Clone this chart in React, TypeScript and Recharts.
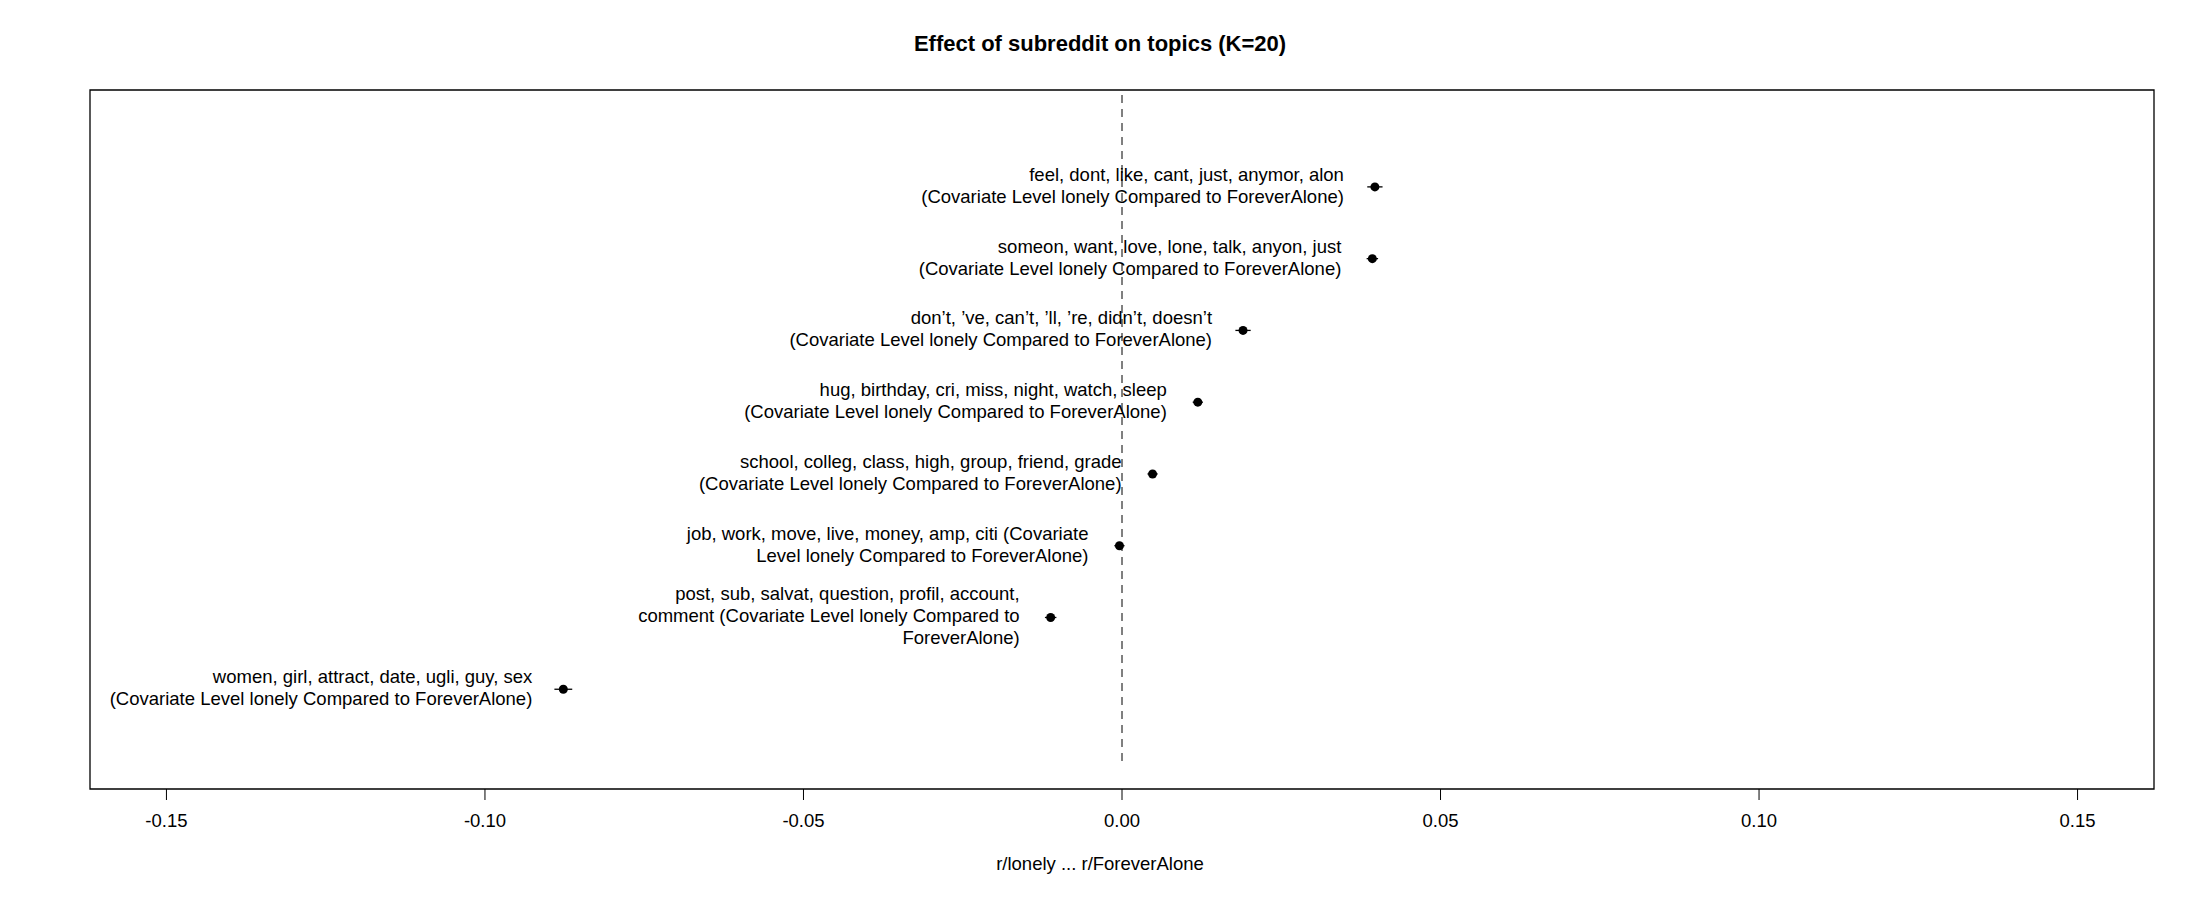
import { ScatterChart, Scatter, XAxis, YAxis, ReferenceLine, ReferenceArea, ErrorBar } from 'recharts';

const topicLabels = [
  ['feel, dont, like, cant, just, anymor, alon', '(Covariate Level lonely Compared to ForeverAlone)'],
  ['someon, want, love, lone, talk, anyon, just', '(Covariate Level lonely Compared to ForeverAlone)'],
  ['don\u2019t, \u2019ve, can\u2019t, \u2019ll, \u2019re, didn\u2019t, doesn\u2019t', '(Covariate Level lonely Compared to ForeverAlone)'],
  ['hug, birthday, cri, miss, night, watch, sleep', '(Covariate Level lonely Compared to ForeverAlone)'],
  ['school, colleg, class, high, group, friend, grade', '(Covariate Level lonely Compared to ForeverAlone)'],
  ['job, work, move, live, money, amp, citi (Covariate', 'Level lonely Compared to ForeverAlone)'],
  ['post, sub, salvat, question, profil, account,', 'comment (Covariate Level lonely Compared to', 'ForeverAlone)'],
  ['women, girl, attract, date, ugli, guy, sex', '(Covariate Level lonely Compared to ForeverAlone)'],
];
const estimates = [0.0397, 0.0393, 0.019, 0.0119, 0.0048, -0.0004, -0.0112, -0.0877];
const ciHalf = [0.0012, 0.0009, 0.0012, 0.0008, 0.0008, 0.0008, 0.0009, 0.0014];
const xTicks = [-0.15, -0.1, -0.05, 0, 0.05, 0.1, 0.15];

const data = estimates.map((v, i) => ({
  x: v,
  y: 8 - i,
  err: ciHalf[i],
  lines: topicLabels[i],
}));

const X_DOMAIN: [number, number] = [-0.162, 0.162];
const Y_DOMAIN: [number, number] = [-0.39, 9.35];
const FONT = '"Liberation Sans", Arial, sans-serif';

function PointShape(props: any) {
  const { cx, cy, payload } = props;
  const lines: string[] = payload.lines;
  const lh = 22;
  const y0 = cy - ((lines.length - 1) * lh) / 2;
  return (
    <g>
      <circle cx={cx} cy={cy} r={4.5} fill="#000" />
      <text x={cx - 31} y={y0} textAnchor="end" fontSize={18.5} fontFamily={FONT} fill="#000">
        {lines.map((l, i) => (
          <tspan key={i} x={cx - 31} y={y0 + i * lh} dominantBaseline="middle">
            {l}
          </tspan>
        ))}
      </text>
    </g>
  );
}

export default function App() {
  return (
    <div style={{ margin: -8, width: 2200, height: 900, background: '#fff', position: 'relative', fontFamily: FONT }}>
      <div style={{ position: 'absolute', top: 31, width: 2200, textAlign: 'center', fontSize: 22, fontWeight: 'bold' }}>
        Effect of subreddit on topics (K=20)
      </div>
      <div style={{ position: 'absolute', top: 853, width: 2200, textAlign: 'center', fontSize: 18.5 }}>
        r/lonely ... r/ForeverAlone
      </div>
      <ScatterChart width={2200} height={900} margin={{ top: 90, right: 46, bottom: 81, left: 90 }}>
        <XAxis
          type="number"
          dataKey="x"
          domain={X_DOMAIN}
          ticks={xTicks}
          allowDataOverflow
          tickFormatter={(v: number) => v.toFixed(2)}
          tick={{ fontSize: 18.5, fill: '#000', fontFamily: FONT }}
          tickSize={11}
          tickMargin={14}
          axisLine={false}
          tickLine={{ stroke: '#000' }}
        />
        <YAxis type="number" dataKey="y" domain={Y_DOMAIN} allowDataOverflow hide />
        <ReferenceArea x1={X_DOMAIN[0]} x2={X_DOMAIN[1]} y1={Y_DOMAIN[0]} y2={Y_DOMAIN[1]} fill="none" stroke="#000" strokeWidth={1.3} ifOverflow="visible" />
        <ReferenceLine segment={[{ x: 0, y: 0 }, { x: 0, y: 9.33 }]} stroke="#000" strokeDasharray="8 6" />
        <Scatter data={data} shape={<PointShape />} isAnimationActive={false}>
          <ErrorBar dataKey="err" direction="x" width={0} stroke="#000" strokeWidth={1.3} />
        </Scatter>
      </ScatterChart>
    </div>
  );
}
